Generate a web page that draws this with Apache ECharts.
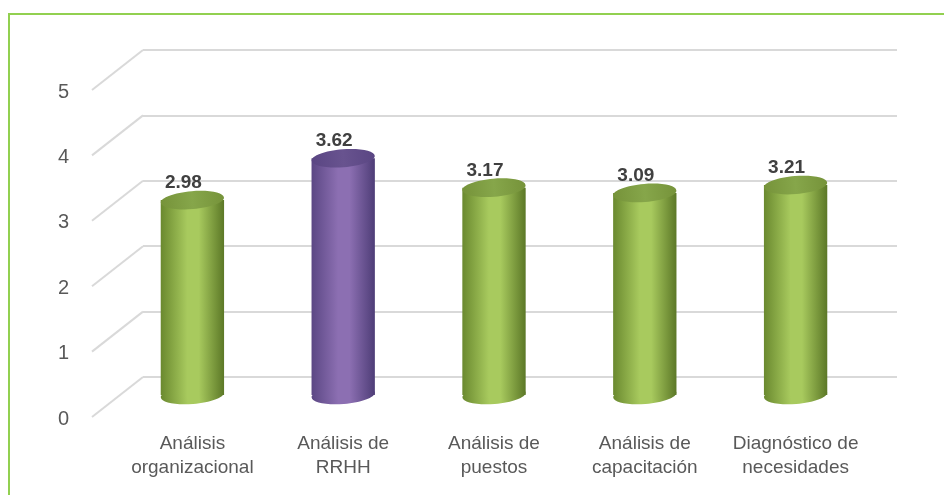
<html>
<head>
    <meta http-equiv="Content-Type" content="text/html; charset=utf-8" />
    <title>Análisis</title>
    <script src="https://cdn.jsdelivr.net/npm/echarts@6/dist/echarts.min.js"></script>
    <style>
        html, body { margin: 0; padding: 0; background: #fff; }
    </style>
</head>
<body>
    <div id="main" style="width:944px;height:495px"></div>

    <script type="text/javascript">
        var categories = ['Análisis\norganizacional', 'Análisis de\nRRHH', 'Análisis de\npuestos', 'Análisis de\ncapacitación', 'Diagnóstico de\nnecesidades'];
        var values = [2.98, 3.62, 3.17, 3.09, 3.21];
        var yTicks = [0, 1, 2, 3, 4, 5];
        var highlight = 1;   // la barra morada

        var green = { left: '#6A892F', mid: '#A8CA5E', right: '#5C7827', top: '#76933A', topMid: '#86A64A' };
        var purple = { left: '#5B4784', mid: '#8C6FB2', right: '#4E3D77', top: '#5A4683', topMid: '#68538F' };

        var barData = [];
        for (var i = 0; i < values.length; i++) {
            barData.push([i, values[i]]);
        }

        function bodyGrad(c) {
            return new echarts.graphic.LinearGradient(0, 0, 1, 0, [
                { offset: 0, color: c.left },
                { offset: 0.42, color: c.mid },
                { offset: 0.6, color: c.mid },
                { offset: 1, color: c.right }
            ]);
        }

        function renderCylinder(params, api) {
            var idx = api.value(0);
            var top = api.coord([idx, api.value(1)]);
            var base = api.coord([idx, 0]);
            var bw = api.size([1, 0])[0] * 0.42;
            var rx = bw / 2, ry = 9;
            var c = idx === highlight ? purple : green;
            var tilt = 0.08;
            return {
                type: 'group',
                children: [
                    {
                        type: 'ellipse',
                        shape: { cx: base[0], cy: base[1], rx: rx, ry: ry },
                        rotation: tilt, originX: base[0], originY: base[1],
                        style: { fill: bodyGrad(c) }
                    },
                    {
                        type: 'rect',
                        shape: { x: base[0] - rx, y: top[1], width: bw, height: base[1] - top[1] },
                        style: { fill: bodyGrad(c) }
                    },
                    {
                        type: 'ellipse',
                        shape: { cx: top[0], cy: top[1], rx: rx, ry: ry },
                        rotation: tilt, originX: top[0], originY: top[1],
                        style: {
                            fill: new echarts.graphic.LinearGradient(0, 0, 1, 0, [
                                { offset: 0, color: c.top },
                                { offset: 0.5, color: c.topMid },
                                { offset: 1, color: c.top }
                            ])
                        }
                    },
                    {
                        type: 'text',
                        x: top[0] - 9,
                        y: top[1] - 17,
                        style: {
                            text: api.value(1).toFixed(2),
                            fill: '#404040',
                            font: 'bold 19px "Liberation Sans", Arial, sans-serif',
                            align: 'center',
                            verticalAlign: 'middle'
                        }
                    }
                ]
            };
        }

        // lineas diagonales del piso lateral
        function renderDiag(params, api) {
            var p = api.coord([0, api.value(0)]);
            var x0 = params.coordSys.x;
            return {
                type: 'line',
                shape: { x1: x0, y1: p[1], x2: x0 - 51, y2: p[1] + 40 },
                style: { stroke: '#D9D9D9', lineWidth: 2 }
            };
        }

        var yBase = { type: 'value', min: 0, max: 5, interval: 1 };

        var option = {
            animation: false,
            backgroundColor: '#fff',
            textStyle: { fontFamily: '"Liberation Sans", Arial, sans-serif' },
            graphic: [{
                type: 'rect',
                shape: { x: 9, y: 14, width: 960, height: 520 },
                style: { fill: 'none', stroke: '#92D050', lineWidth: 2 },
                silent: true
            }],
            grid: [
                { left: 143, right: 47, top: 50, bottom: 118 },
                { left: 117, right: 73, top: 68, bottom: 100 },
                { left: 92, right: 98, top: 92, bottom: 76 }
            ],
            xAxis: [
                { type: 'category', gridIndex: 0, data: categories, show: false },
                {
                    type: 'category', gridIndex: 1, data: categories,
                    axisLine: { show: false }, axisTick: { show: false },
                    axisLabel: { color: '#595959', fontSize: 19, lineHeight: 24, margin: 37, interval: 0 }
                },
                { type: 'category', gridIndex: 2, data: categories, show: false }
            ],
            yAxis: [
                Object.assign({ gridIndex: 0, axisLabel: { show: false }, axisLine: { show: false }, axisTick: { show: false },
                    splitLine: { lineStyle: { color: '#D9D9D9', width: 2 } } }, yBase),
                Object.assign({ gridIndex: 1, show: false, splitLine: { show: false } }, yBase),
                Object.assign({ gridIndex: 2, axisLine: { show: false }, axisTick: { show: false }, splitLine: { show: false },
                    axisLabel: { color: '#595959', fontSize: 20, margin: 23 } }, yBase)
            ],
            series: [
                {
                    type: 'custom',
                    xAxisIndex: 0, yAxisIndex: 0,
                    renderItem: renderDiag,
                    data: yTicks,
                    z: 1,
                    silent: true
                },
                {
                    type: 'custom',
                    xAxisIndex: 1, yAxisIndex: 1,
                    renderItem: renderCylinder,
                    encode: { x: 0, y: 1 },
                    data: barData,
                    z: 5
                }
            ]
        };

        var myChart = echarts.init(document.getElementById('main'));
        myChart.setOption(option);
    </script>
</body>
</html>
